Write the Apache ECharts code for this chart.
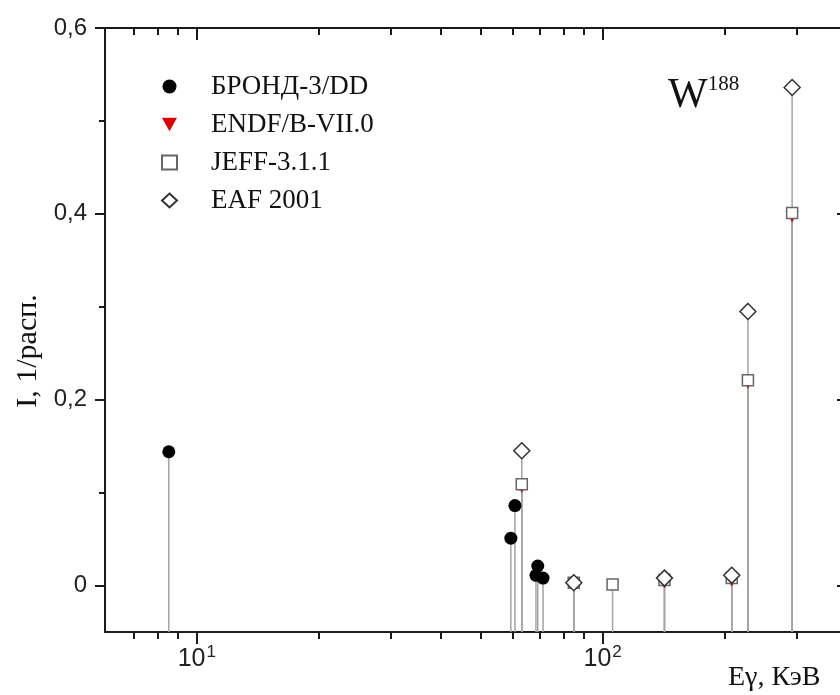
<!DOCTYPE html>
<html><head><meta charset="utf-8">
<script src="https://cdn.jsdelivr.net/npm/echarts@6/dist/echarts.min.js"></script>
<style>html,body{margin:0;padding:0;background:#fff;overflow:hidden;width:840px;height:695px}#c{width:850px;height:695px}</style>
</head><body><div id="c"></div>
<script>
// ---- data (gamma energy, keV ; intensity, 1/decay) ----
const brondE = [8.53, 59.4, 60.8, 68.5, 69.2, 71.3];
const brondI = [0.144, 0.051, 0.086, 0.011, 0.021, 0.008];
const endfE  = [63.2, 84.9, 142, 208, 228, 293];
const endfI  = [0.106, 0.002, 0.003, 0.005, 0.218, 0.397];
const jeffE  = [63.2, 84.9, 105.8, 142, 208, 228, 293];
const jeffI  = [0.109, 0.003, 0.001, 0.006, 0.008, 0.221, 0.401];
const eafE   = [63.2, 84.9, 142, 208, 228, 293];
const eafI   = [0.145, 0.003, 0.008, 0.011, 0.295, 0.536];
const seriesNames = ['БРОНД-3/DD', 'ENDF/B-VII.0', 'JEFF-3.1.1', 'EAF 2001'];
const xMajorTicks = [10, 100];
const xMinorTicks = [7, 8, 9, 20, 30, 40, 50, 60, 70, 80, 90, 200, 300];
const yMajorTicks = [0, 0.2, 0.4, 0.6];
const yMinorTicks = [0.1, 0.3, 0.5];
const yTickLabels = {0: '0', 0.2: '0,2', 0.4: '0,4', 0.6: '0,6'};
const X_MIN = 5.94, X_MAX = 400, Y_MIN = -0.05, Y_MAX = 0.6;

const pairs = (xs, ys) => xs.map((x, i) => [x, ys[i]]);
const serif = 'Liberation Serif';
const sans = 'Liberation Sans';
const axisColor = '#1a1a1a';

function xAxisDef(grid, pos, ticks, len, inside, showLine, showLabels) {
  return {
    type: 'log', logBase: 10, min: X_MIN, max: X_MAX, gridIndex: grid, position: pos,
    axisLine: {show: showLine, onZero: false, lineStyle: {color: axisColor, width: 2}},
    axisTick: {show: true, customValues: ticks, length: len, inside: inside, lineStyle: {color: axisColor, width: 2}},
    axisLabel: showLabels ? {
      show: true, customValues: xMajorTicks, margin: 12,
      formatter: v => '{a|10}{b|' + Math.round(Math.log10(v)) + '}',
      rich: {
        a: {fontFamily: sans, fontSize: 25, color: '#222'},
        b: {fontFamily: sans, fontSize: 17, color: '#222', padding: [0, 0, 14, 1]}
      }
    } : {show: false},
    splitLine: {show: false}, minorTick: {show: false}
  };
}
function yAxisDef(grid, pos, ticks, len, inside, showLine, showLabels, withName) {
  const a = {
    type: 'value', min: Y_MIN, max: Y_MAX, gridIndex: grid, position: pos,
    axisLine: {show: showLine, onZero: false, lineStyle: {color: axisColor, width: 2}},
    axisTick: {show: true, customValues: ticks, length: len, inside: inside, lineStyle: {color: axisColor, width: 2}},
    axisLabel: showLabels ? {
      show: true, customValues: yMajorTicks, margin: 18,
      formatter: v => yTickLabels[Math.round(v * 10) / 10],
      fontFamily: sans, fontSize: 24, color: '#222'
    } : {show: false},
    splitLine: {show: false}
  };
  if (withName) {
    Object.assign(a, {
      name: 'I, 1/расп.', nameLocation: 'middle', nameRotate: 90, nameGap: 60,
      nameTextStyle: {fontFamily: serif, fontSize: 30, color: '#111', padding: [0, 42, 0, 0]}
    });
  }
  return a;
}

function stemSeries(data) {
  return {
    type: 'custom', xAxisIndex: 0, yAxisIndex: 0, z: 1, silent: true,
    data: data, encode: {x: 0, y: 1},
    renderItem: (params, api) => {
      const top = api.coord([api.value(0), api.value(1)]);
      const bot = api.coord([api.value(0), Y_MIN]);
      return {type: 'line', shape: {x1: top[0], y1: top[1], x2: bot[0], y2: bot[1]},
              style: {stroke: '#a3a3a3', lineWidth: 1.5}};
    }
  };
}

const brond = pairs(brondE, brondI), endf = pairs(endfE, endfI), jeff = pairs(jeffE, jeffI), eaf = pairs(eafE, eafI);

const option = {
  animation: false,
  backgroundColor: '#fff',
  grid: [
    {left: 105, top: 28, right: 3, bottom: 63},
    {left: 105, top: 28, right: 3, bottom: 63}
  ],
  xAxis: [
    xAxisDef(0, 'bottom', xMajorTicks, 12, false, true, true),
    xAxisDef(0, 'top', xMajorTicks, 12, true, true, false),
    xAxisDef(1, 'bottom', xMinorTicks, 7, false, false, false),
    xAxisDef(1, 'top', xMinorTicks, 7, true, false, false)
  ],
  yAxis: [
    yAxisDef(0, 'left', yMajorTicks, 10, false, true, true, true),
    yAxisDef(0, 'right', yMajorTicks, 10, true, true, false, false),
    yAxisDef(1, 'left', yMinorTicks, 6, false, false, false, false),
    yAxisDef(1, 'right', yMinorTicks, 6, true, false, false, false)
  ],
  legend: {
    data: seriesNames, orient: 'vertical', left: 156, top: 68,
    itemWidth: 15, itemHeight: 14, itemGap: 11,
    textStyle: {fontFamily: serif, fontSize: 27, color: '#111', padding: [0, 0, 0, 29]},
    selectedMode: false
  },
  graphic: [
    {type: 'text', left: 668, top: 74, style: {
      text: '{w|W}{s|188}',
      rich: {
        w: {fontFamily: serif, fontSize: 42, fill: '#111'},
        s: {fontFamily: serif, fontSize: 21, fill: '#111', padding: [0, 0, 22, 0]}
      }}},
    {type: 'text', left: 728, top: 664, style: {text: 'Eγ, КэВ', fontFamily: serif, fontSize: 28, fill: '#111'}}
  ],
  series: [
    stemSeries(brond), stemSeries(endf), stemSeries(jeff), stemSeries(eaf),
    {name: seriesNames[0], type: 'scatter', data: brond, symbol: 'circle', symbolSize: 13, z: 3,
     itemStyle: {color: '#000', opacity: 1}},
    {name: seriesNames[1], type: 'scatter', data: endf, symbol: 'path://M0,0L10,0L5,9Z', symbolKeepAspect: true, symbolSize: 13, z: 4,
     itemStyle: {color: '#e00000', opacity: 1}},
    {name: seriesNames[2], type: 'scatter', data: jeff, symbol: 'rect', symbolSize: 11, z: 5,
     itemStyle: {color: '#fff', borderColor: '#666', borderWidth: 1.5, opacity: 1}},
    {name: seriesNames[3], type: 'scatter', data: eaf, symbol: 'diamond', symbolSize: [16, 16], z: 6,
     itemStyle: {color: '#fff', borderColor: '#333', borderWidth: 1.5, opacity: 1}}
  ]
};
const chart = echarts.init(document.getElementById('c'), null, {renderer: 'canvas'});
chart.setOption(option);
</script></body></html>
